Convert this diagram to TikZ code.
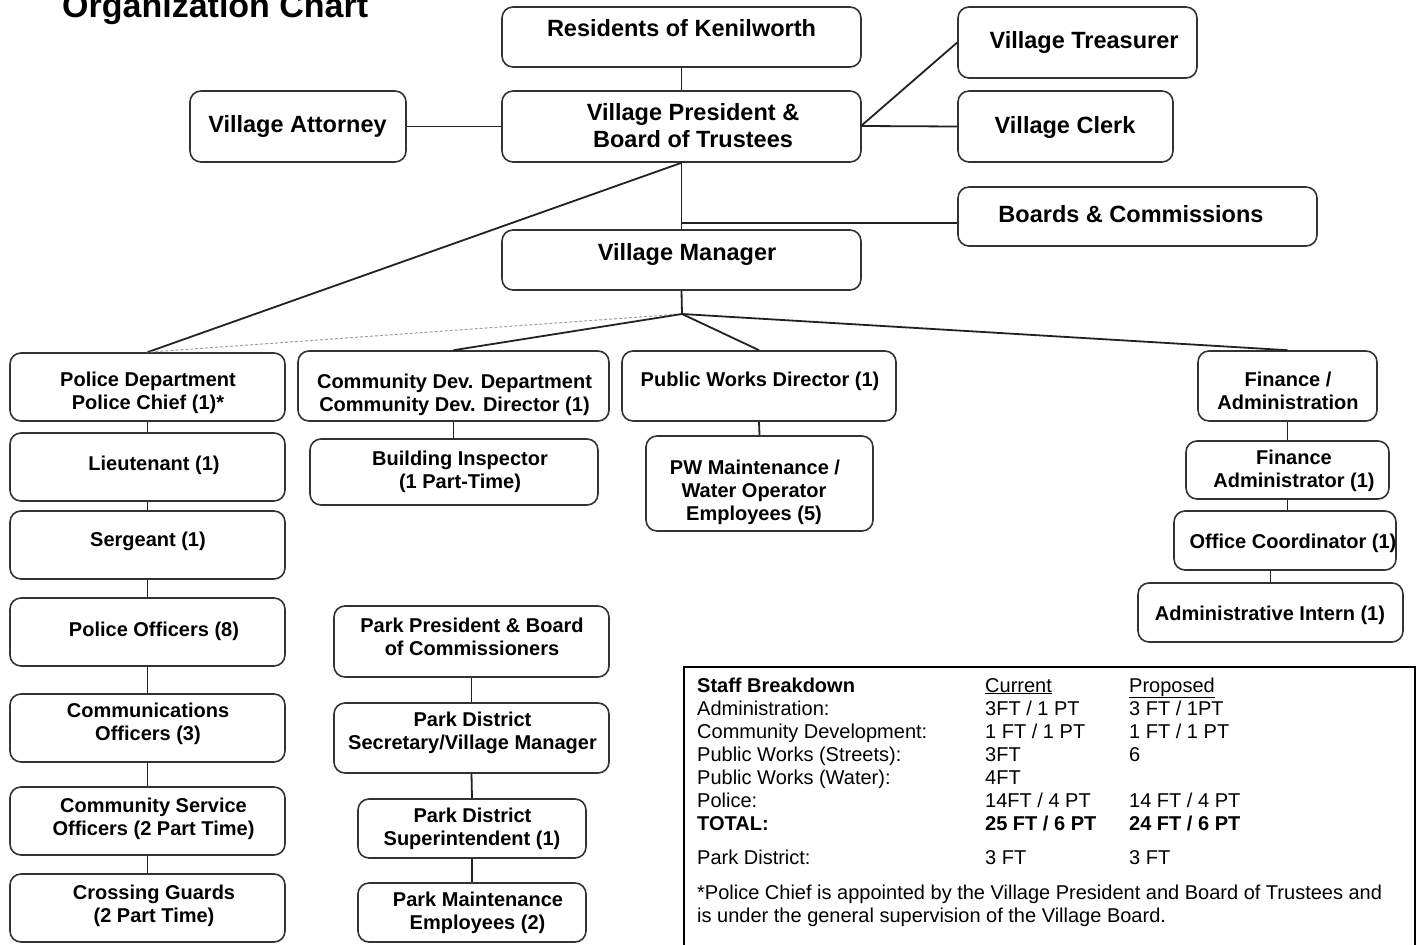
\documentclass[tikz,border=0pt]{standalone}
\usepackage{fontspec}
\setmainfont{Liberation Sans}
\definecolor{boxgray}{HTML}{333333}
\definecolor{linegray}{HTML}{222222}
\definecolor{dashgray}{HTML}{A0A0A0}
\tikzset{
  orgbox/.style={draw=boxgray, line width=1.6pt, rounded corners=11pt, fill=white, inner sep=0pt},
  conn/.style={draw=linegray, line width=1.8pt},
  dconn/.style={draw=dashgray, line width=1pt, dash pattern=on 3pt off 2pt},
  big/.style={font=\bfseries\fontsize{23.5}{27}\selectfont, inner sep=0pt, anchor=base},
  small/.style={font=\bfseries\fontsize{20}{23}\selectfont, inner sep=0pt, anchor=base},
  tab/.style={font=\fontsize{20}{23}\selectfont, inner sep=0pt, anchor=base west},
  tabb/.style={font=\bfseries\fontsize{20}{23}\selectfont, inner sep=0pt, anchor=base west},
  tablebox/.style={draw=black, line width=2pt, inner sep=0pt, anchor=north west},
}
\newcommand\orgbx[5]{\node[orgbox, minimum width={(#4)-(#2)}, minimum height={(#5)-(#3)}] (#1) at ({((#2)+(#4))/2},{((#3)+(#5))/2}) {};}
\newcommand\tx[5]{\node[#1] (#2) at (#3,#4) {#5};}
\begin{document}
\begin{tikzpicture}[x=1pt, y=-1pt]
\useasboundingbox (0,0) rectangle (1420,944);
\clip (0,0) rectangle (1420,944);
\fill[white] (0,0) rectangle (1420,944);

% title
\node[anchor=base west, font=\bfseries\fontsize{34}{40}\selectfont, inner sep=0pt] (title) at (62,18) {Organization Chart};

% boxes
\orgbx{res}{502}{7}{861}{67}
\orgbx{pres}{502}{91}{861}{162}
\orgbx{att}{190}{91}{406}{162}
\orgbx{tre}{958}{7}{1197}{78}
\orgbx{clk}{958}{91}{1173}{162}
\orgbx{brd}{958}{187}{1317}{246}
\orgbx{man}{502}{230}{861}{290}
\orgbx{pol}{10}{353}{285}{421}
\orgbx{cdd}{298}{351}{609}{421}
\orgbx{pwd}{622}{351}{896}{421}
\orgbx{fin}{1198}{351}{1377}{421}
\orgbx{lt}{10}{433}{285}{501}
\orgbx{sgt}{10}{511}{285}{579}
\orgbx{off}{10}{598}{285}{666}
\orgbx{com}{10}{694}{285}{762}
\orgbx{cso}{10}{787}{285}{855}
\orgbx{cg}{10}{874}{285}{942}
\orgbx{bi}{310}{439}{598}{505}
\orgbx{pwm}{646}{436}{873}{531}
\orgbx{fa}{1186}{441}{1389}{499}
\orgbx{oc}{1174}{511}{1396}{570}
\orgbx{ai}{1138}{583}{1403}{642}
\orgbx{pp}{334}{606}{609}{677}
\orgbx{ps}{334}{703}{609}{773}
\orgbx{sup}{358}{799}{586}{858}
\orgbx{pm}{358}{883}{586}{942}

% connectors
\coordinate (bj) at (682,223);
\coordinate (mj) at (682,314);
\coordinate (tj) at (861,126);
\draw[conn] (res.south) -- (pres.north);
\draw[conn] (att.east) -- (pres.west);
\draw[conn] (tj) -- (clk.west);
\draw[conn] (tj) -- (tre.west);
\draw[conn] (pres.south) -- (man.north);
\draw[conn] (bj) -- (bj -| brd.west);
\draw[conn] (pres.south) -- (pol.north);
\draw[conn] (man.south) -- (mj);
\draw[dconn] (mj) -- (pol.north);
\draw[conn] (mj) -- (cdd.north);
\draw[conn] (mj) -- (pwd.north);
\draw[conn] (mj) -- (fin.north);
\draw[conn] (pol.south) -- (lt.north);
\draw[conn] (lt.south) -- (sgt.north);
\draw[conn] (sgt.south) -- (off.north);
\draw[conn] (off.south) -- (com.north);
\draw[conn] (com.south) -- (cso.north);
\draw[conn] (cso.south) -- (cg.north);
\draw[conn] (cdd.south) -- (bi.north -| cdd.south);
\draw[conn] (pwd.south) -- (pwm.north);
\draw[conn] (fin.south) -- (fa.north);
\draw[conn] (fa.south) -- (fa.south |- oc.north);
\draw[conn] (ai.north |- oc.south) -- (ai.north);
\draw[conn] (pp.south) -- (ps.north);
\draw[conn] (ps.south) -- (sup.north);
\draw[conn] (sup.south) -- (pm.north);

% box texts
\tx{big}{res-t}{681.5}{37}{Residents of Kenilworth}
\tx{big}{pres-t1}{693}{121}{Village President \&}
\tx{big}{pres-t2}{693}{148}{Board of Trustees}
\tx{big}{att-t}{297.5}{133}{Village Attorney}
\tx{big}{tre-t}{1084}{49}{Village Treasurer}
\tx{big}{clk-t}{1065}{134}{Village Clerk}
\tx{big}{brd-t}{1131}{222}{Boards \& Commissions}
\tx{big}{man-t}{687}{260}{Village Manager}

\tx{small}{pol-t1}{148}{386}{Police Department}
\tx{small}{pol-t2}{148}{409}{Police Chief (1)*}
\tx{small}{lt-t}{154}{470}{Lieutenant (1)}
\tx{small}{sgt-t}{148}{546}{Sergeant (1)}
\tx{small}{off-t}{154}{636}{Police Officers (8)}
\tx{small}{com-t1}{148}{717}{Communications}
\tx{small}{com-t2}{148}{740}{Officers (3)}
\tx{small}{cso-t1}{153.5}{812}{Community Service}
\tx{small}{cso-t2}{153.5}{835}{Officers (2 Part Time)}
\tx{small}{cg-t1}{154}{899}{Crossing Guards}
\tx{small}{cg-t2}{154}{922}{(2 Part Time)}

\tx{small}{cdd-t1}{454.5}{388}{Community Dev. Department}
\tx{small}{cdd-t2}{454.5}{411}{Community Dev. Director (1)}
\tx{small}{bi-t1}{460}{465}{Building Inspector}
\tx{small}{bi-t2}{460}{488}{(1 Part-Time)}

\tx{small}{pwd-t}{760}{386}{Public Works Director (1)}
\tx{small}{pwm-t1}{755}{474}{PW Maintenance /}
\tx{small}{pwm-t2}{754}{497}{Water Operator}
\tx{small}{pwm-t3}{754}{520}{Employees (5)}

\tx{small}{fin-t1}{1288}{386}{Finance /}
\tx{small}{fin-t2}{1288}{409}{Administration}
\tx{small}{fa-t1}{1294}{464}{Finance}
\tx{small}{fa-t2}{1294}{487}{Administrator (1)}
\tx{small}{oc-t}{1293}{548}{Office Coordinator (1)}
\tx{small}{ai-t}{1270}{620}{Administrative Intern (1)}

\tx{small}{pp-t1}{472}{632}{Park President \& Board}
\tx{small}{pp-t2}{472}{655}{of Commissioners}
\tx{small}{ps-t1}{472.5}{726}{Park District}
\tx{small}{ps-t2}{472.5}{749}{Secretary/Village Manager}
\tx{small}{sup-t1}{472.5}{822}{Park District}
\tx{small}{sup-t2}{472}{845}{Superintendent (1)}
\tx{small}{pm-t1}{478}{906}{Park Maintenance}
\tx{small}{pm-t2}{477.5}{929}{Employees (2)}

% staff table
\node[tablebox, minimum width=731, minimum height=300] (tbl) at (683,666) {};
\tx{tabb}{s0a}{697}{692}{Staff Breakdown}
\tx{tab}{s0b}{985}{692}{\underline{Current}}
\tx{tab}{s0c}{1129}{692}{\underline{Proposed}}
\tx{tab}{s1a}{697}{715}{Administration:}
\tx{tab}{s1b}{985}{715}{3FT / 1 PT}
\tx{tab}{s1c}{1129}{715}{3 FT / 1PT}
\tx{tab}{s2a}{697}{738}{Community Development:}
\tx{tab}{s2b}{985}{738}{1 FT / 1 PT}
\tx{tab}{s2c}{1129}{738}{1 FT / 1 PT}
\tx{tab}{s3a}{697}{761}{Public Works (Streets):}
\tx{tab}{s3b}{985}{761}{3FT}
\tx{tab}{s3c}{1129}{761}{6}
\tx{tab}{s4a}{697}{784}{Public Works (Water):}
\tx{tab}{s4b}{985}{784}{4FT}
\tx{tab}{s5a}{697}{807}{Police:}
\tx{tab}{s5b}{985}{807}{14FT / 4 PT}
\tx{tab}{s5c}{1129}{807}{14 FT / 4 PT}
\tx{tabb}{s6a}{697}{830}{TOTAL:}
\tx{tabb}{s6b}{985}{830}{25 FT / 6 PT}
\tx{tabb}{s6c}{1129}{830}{24 FT / 6 PT}
\tx{tab}{s7a}{697}{864}{Park District:}
\tx{tab}{s7b}{985}{864}{3 FT}
\tx{tab}{s7c}{1129}{864}{3 FT}
\tx{tab}{fn1}{697}{899}{*Police Chief is appointed by the Village President and Board of Trustees and}
\tx{tab}{fn2}{697}{922}{is under the general supervision of the Village Board.}
\end{tikzpicture}
\end{document}
